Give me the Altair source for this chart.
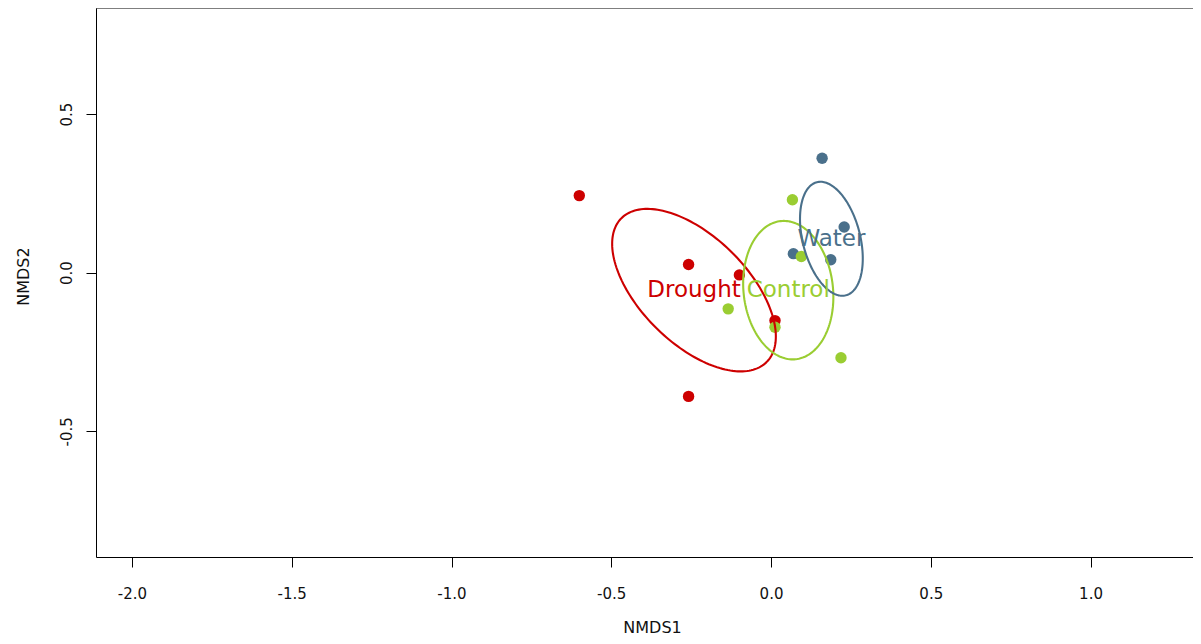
import altair as alt
import numpy as np
import pandas as pd

# ---- data ----
groups = ["Drought"] * 5 + ["Water"] * 4 + ["Control"] * 5
nmds1 = [-0.600, -0.258, -0.099, 0.0125, -0.258,
         0.160, 0.229, 0.070, 0.187,
         0.067, 0.095, -0.134, 0.0125, 0.219]
nmds2 = [0.243, 0.026, -0.007, -0.151, -0.390,
         0.361, 0.144, 0.060, 0.041,
         0.230, 0.051, -0.114, -0.172, -0.268]

ell_groups = ["Drought", "Control", "Water"]
ell_cx = [-0.241, 0.054, 0.189]
ell_cy = [-0.055, -0.055, 0.107]
ell_a = [0.321, 0.219, 0.184]
ell_b = [0.168, 0.140, 0.090]
ell_angle = [-45.0, -83.8, -75.8]

x_ticks = [-2.0, -1.5, -1.0, -0.5, 0.0, 0.5, 1.0]
y_ticks = [-0.5, 0.0, 0.5]

cat_domain = ["Drought", "Control", "Water"]
cat_colors = ["#CD0000", "#9ACD32", "#4A708B"]

# ---- tables ----
pts = pd.DataFrame({"group": groups, "NMDS1": nmds1, "NMDS2": nmds2})

rows = []
t = np.linspace(0, 2 * np.pi, 181)
for g, cx, cy, a, b, ang in zip(ell_groups, ell_cx, ell_cy, ell_a, ell_b, ell_angle):
    p = np.deg2rad(ang)
    ex = cx + a * np.cos(t) * np.cos(p) - b * np.sin(t) * np.sin(p)
    ey = cy + a * np.cos(t) * np.sin(p) + b * np.sin(t) * np.cos(p)
    for i, (xx, yy) in enumerate(zip(ex, ey)):
        rows.append({"group": g, "NMDS1": xx, "NMDS2": yy, "ord": i})
ell = pd.DataFrame(rows)

labs = pd.DataFrame({"group": ell_groups, "NMDS1": ell_cx, "NMDS2": ell_cy})

W, H = 1097, 549
xdom = [-2.1127, 1.3208]
ydom = [-0.8963, 0.8345]

lab_expr = "datum.value < 0 ? '-' + format(abs(datum.value), '.1f') : format(datum.value, '.1f')"

xenc = alt.X("NMDS1:Q", scale=alt.Scale(domain=xdom, nice=False, zero=False),
             axis=alt.Axis(values=x_ticks, labelExpr=lab_expr, title="NMDS1",
                           labelPadding=19, titleX=556, titleY=75,
                           titleBaseline="alphabetic", titleAnchor="start",
                           titleAlign="center"))
yenc = alt.Y("NMDS2:Q", scale=alt.Scale(domain=ydom, nice=False, zero=False),
             axis=alt.Axis(values=y_ticks, labelExpr=lab_expr, title="NMDS2",
                           labelAngle=270, labelAlign="center",
                           labelBaseline="alphabetic", labelPadding=15,
                           titleAngle=270, titleX=-68, titleY=268,
                           titleBaseline="alphabetic", titleAlign="center"))
color = alt.Color("group:N", scale=alt.Scale(domain=cat_domain, range=cat_colors), legend=None)

points = alt.Chart(pts).mark_circle(size=130, opacity=1).encode(x=xenc, y=yenc, color=color)

ellipses = alt.Chart(ell).mark_line(strokeWidth=2.1).encode(
    x="NMDS1:Q", y="NMDS2:Q", color=color, detail="group:N", order="ord:Q")

labels = alt.Chart(labs).mark_text(font="DejaVu Sans", fontSize=23,
                                   align="center", baseline="middle").encode(
    x="NMDS1:Q", y="NMDS2:Q", text="group:N", color=color)

top = alt.Chart(pd.DataFrame({"k": [0]})).mark_rule(color="black", strokeWidth=1).encode(
    x=alt.value(0), x2=alt.value(W), y=alt.value(0))

chart = alt.layer(points, ellipses, labels, top).properties(
    width=W, height=H,
    padding={"left": 88, "top": 0, "right": 0, "bottom": 79},
    autosize=alt.AutoSizeParams(type="none"),
).configure_view(stroke=None).configure_axis(
    grid=False, domainColor="black", domainWidth=1, tickColor="black", tickSize=10,
    labelFont="DejaVu Sans", labelFontSize=15, labelColor="#111",
    titleFont="DejaVu Sans", titleFontSize=16, titleFontWeight="normal", titleColor="#111",
)

chart.save("out.html", embed_options={"renderer": "svg", "actions": False})
